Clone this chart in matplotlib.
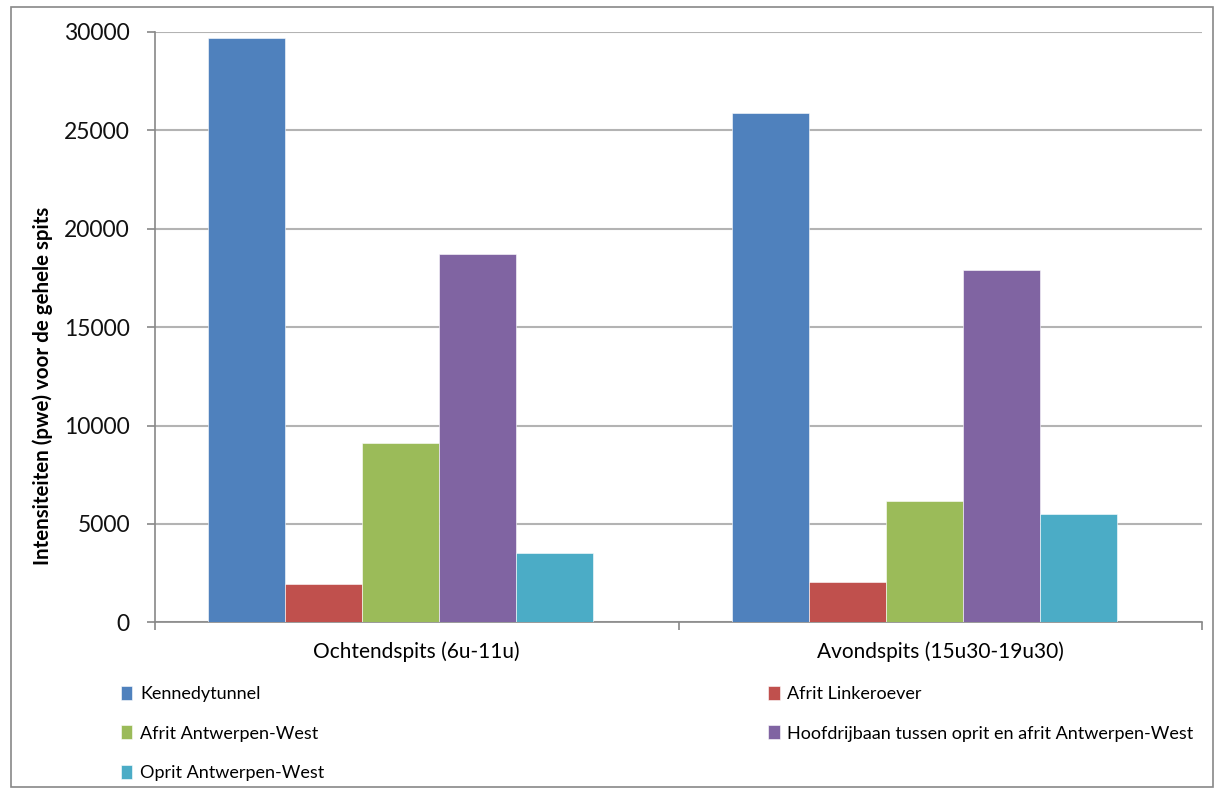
import numpy as np
import matplotlib
matplotlib.use("Agg")
import matplotlib.pyplot as plt
from matplotlib.patches import Rectangle

plt.rcParams['font.family'] = ['Lato', 'DejaVu Sans']

# traffic intensities per peak period (pwe over the whole peak)
periods = ["Ochtendspits (6u-11u)", "Avondspits (15u30-19u30)"]
series = ["Kennedytunnel", "Afrit Linkeroever", "Afrit Antwerpen-West",
          "Hoofdrijbaan tussen oprit en afrit Antwerpen-West", "Oprit Antwerpen-West"]
kennedy = [29700, 25870]
afrit_lo = [1960, 2030]
afrit_aw = [9130, 6180]
hoofdrijbaan = [18700, 17890]
oprit_aw = [3540, 5490]
colors = ["#4F81BD", "#C0504D", "#9BBB59", "#8064A2", "#4BACC6"]

values = [kennedy, afrit_lo, afrit_aw, hoofdrijbaan, oprit_aw]

fig = plt.figure(figsize=(12.16, 7.9), dpi=100)
ax = fig.add_axes([155/1216, 1-622.3/790, 1047/1216, 590.3/790])

x = np.arange(len(periods))
w = 0.147
start = -0.398
bars = []
for i, (vals, c) in enumerate(zip(values, colors)):
    b = ax.bar(x + start + w*(i + 0.5), vals, w, color=c, edgecolor="white",
               linewidth=0.4, zorder=3, label=series[i])
    bars.append(b)

ax.set_xlim(-0.5, 1.5)
ax.set_ylim(0, 30000)
ax.set_yticks(range(0, 30001, 5000))
ax.yaxis.grid(True, color="#b3b3b3", linewidth=1.5, zorder=0)
ax.tick_params(axis="y", length=6, width=1.2, color="#888888", pad=12,
               labelsize=16.5, labelcolor="#111111")

ax.set_xticks(x)
ax.set_xticklabels(periods, fontsize=15)
ax.set_xticks([-0.5, 0.5, 1.5], minor=True)
ax.tick_params(axis="x", which="major", length=0, pad=14)
ax.tick_params(axis="x", which="minor", length=6, width=1.2, color="#888888")

for s in ["top", "right"]:
    ax.spines[s].set_visible(False)
for s in ["left", "bottom"]:
    ax.spines[s].set_color("#888888")
    ax.spines[s].set_linewidth(1.2)

ax.set_ylabel("Intensiteiten (pwe) voor de gehele spits", fontsize=14.8,
              fontweight="bold")
ax.yaxis.set_label_coords(-0.097, 0.40)

# legend filled row by row
order = [0, 2, 4, 1, 3]
fig.legend([bars[i] for i in order], [series[i] for i in order],
           ncol=2, loc="upper left", bbox_to_anchor=(105/1216, 1-669.5/790),
           frameon=False, fontsize=13, handlelength=0.62, handleheight=0.83,
           handletextpad=0.42, labelspacing=1.28, columnspacing=24.6)

# outer chart border
fig.patches.append(Rectangle((11/1216, 3/790), 1202/1216, 780/790,
                             transform=fig.transFigure, fill=False,
                             edgecolor="#888888", linewidth=1.2))

fig.savefig("out.png", dpi=100)
